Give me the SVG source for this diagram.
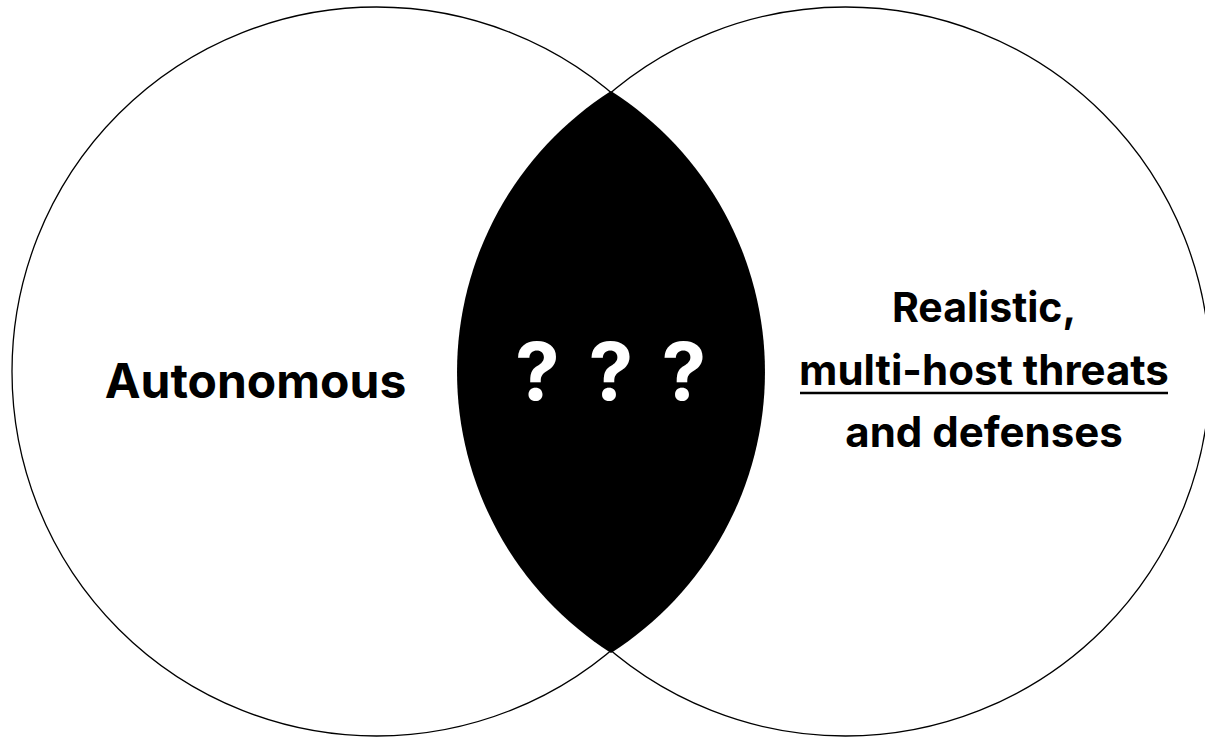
<svg xmlns="http://www.w3.org/2000/svg" width="1205" height="738" viewBox="0 0 1205 738">
<style>
.ring{fill:none;stroke:#000;stroke-width:1.3}
.lbl{font-family:Inter,"Liberation Sans",sans-serif;font-weight:700;fill:#000;text-anchor:middle}
.q{font-family:Inter,"Liberation Sans",sans-serif;font-weight:700;fill:#fff;text-anchor:middle;font-size:80px}
</style>
<rect width="1205" height="738" fill="#fff"/>
<g id="left-circle">
<circle class="ring" cx="376.5" cy="371.5" r="364.5"/>
<text class="lbl" x="255.5" y="398" font-size="48">Autonomous</text>
</g>
<g id="right-circle">
<circle class="ring" cx="845.5" cy="371.5" r="364.5"/>
<text class="lbl" x="984" y="322" font-size="41">Realistic,</text>
<text class="lbl" x="984" y="385" font-size="42">multi-host threats</text>
<line x1="800" y1="393" x2="1168" y2="393" stroke="#000" stroke-width="2.5"/>
<text class="lbl" x="984" y="447" font-size="42">and defenses</text>
</g>
<g id="intersection">
<path d="M611 91 A333.4 333.4 0 0 1 611 653 A333.4 333.4 0 0 1 611 91 Z" fill="#000"/>
<text class="q" x="537.5" y="400">?</text>
<text class="q" x="611" y="400">?</text>
<text class="q" x="684" y="400">?</text>
</g>
<g id="connectors"/>
</svg>
